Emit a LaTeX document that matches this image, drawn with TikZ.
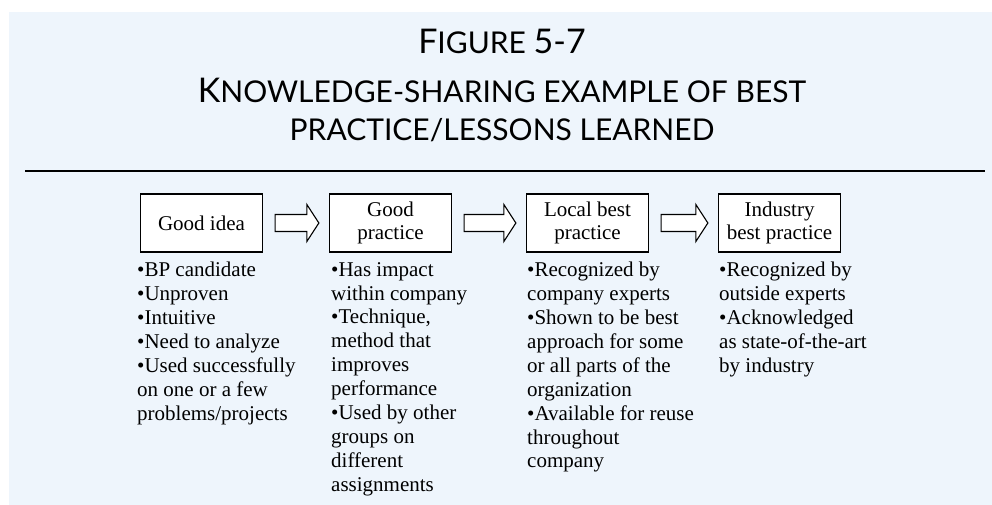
\documentclass[tikz,border=0pt]{standalone}
\usepackage{fontspec}
\setmainfont{Liberation Serif}
\newfontfamily\titlefont{Lato}
\usetikzlibrary{calc}
\definecolor{bgblue}{RGB}{238,245,252}
\newcommand{\capbig}[1]{{\fontsize{34}{34}\selectfont #1}}
% hollow block arrow between two stages
\newcommand{\stagearrow}[2]{%
\draw[hollow] let \p1=($(#1.east)+(12,0)$), \p2=($(#2.west)-(10,0)$) in
  (\x1,\y1-8.5) -- (\x2-12,\y1-8.5) -- (\x2-12,\y1-18.5) -- (\x2,\y1)
  -- (\x2-12,\y1+18.5) -- (\x2-12,\y1+8.5) -- (\x1,\y1+8.5) -- cycle;}

\begin{document}
\begin{tikzpicture}[x=1pt, y=-1pt, line join=miter,
  stage/.style={draw, line width=1.3pt, fill=white, minimum width=122pt, minimum height=58pt,
    align=center, inner sep=2pt, font=\fontsize{21}{23}\selectfont},
  points/.style={anchor=north west, inner sep=0pt, align=left, font=\fontsize{21}{23.9}\selectfont},
  hollow/.style={draw, line width=1.1pt, fill=white},
  heading/.style={anchor=base, inner sep=0pt, font=\titlefont\fontsize{30}{36}\selectfont}]
\useasboundingbox (0,0) rectangle (992,505);
\fill[bgblue] (9,12) rectangle (992,505);
%\node[heading] at (502,54) {Figure 5-7};
\node[heading] (fig) at (502,54) {\capbig{F}IGURE \capbig{5-7}};
\node[heading] (title) at (502,103) {\capbig{K}NOWLEDGE-SHARING EXAMPLE OF BEST};
\node[heading] (title2) at (502,141) {PRACTICE/LESSONS LEARNED};
\draw[line width=1.5pt] (25,171) -- (985,171);
\node[stage] (idea) at (201.5,223) {Good idea};
\node[stage] (good) at (390.5,223) {Good\\practice};
\node[stage] (local) at (587.5,223) {Local best\\practice};
\node[stage] (industry) at (779.5,223) {Industry\\best practice};
\stagearrow{idea}{good}
\stagearrow{good}{local}
\stagearrow{local}{industry}
\node[points] (ideapts) at (137,262) {•BP candidate\\•Unproven\\•Intuitive\\•Need to analyze\\
  •Used successfully\\on one or a few\\problems/projects};
\node[points] (goodpts) at (331,262) {•Has impact\\within company\\•Technique,\\method that\\
  improves\\performance\\•Used by other\\groups on\\different\\assignments};
\node[points] (localpts) at (527,262) {•Recognized by\\company experts\\•Shown to be best\\
  approach for some\\or all parts of the\\organization\\•Available for reuse\\throughout\\company};
\node[points] (industrypts) at (719,262) {•Recognized by\\outside experts\\•Acknowledged\\
  as state-of-the-art\\by industry};
\end{tikzpicture}
\end{document}
